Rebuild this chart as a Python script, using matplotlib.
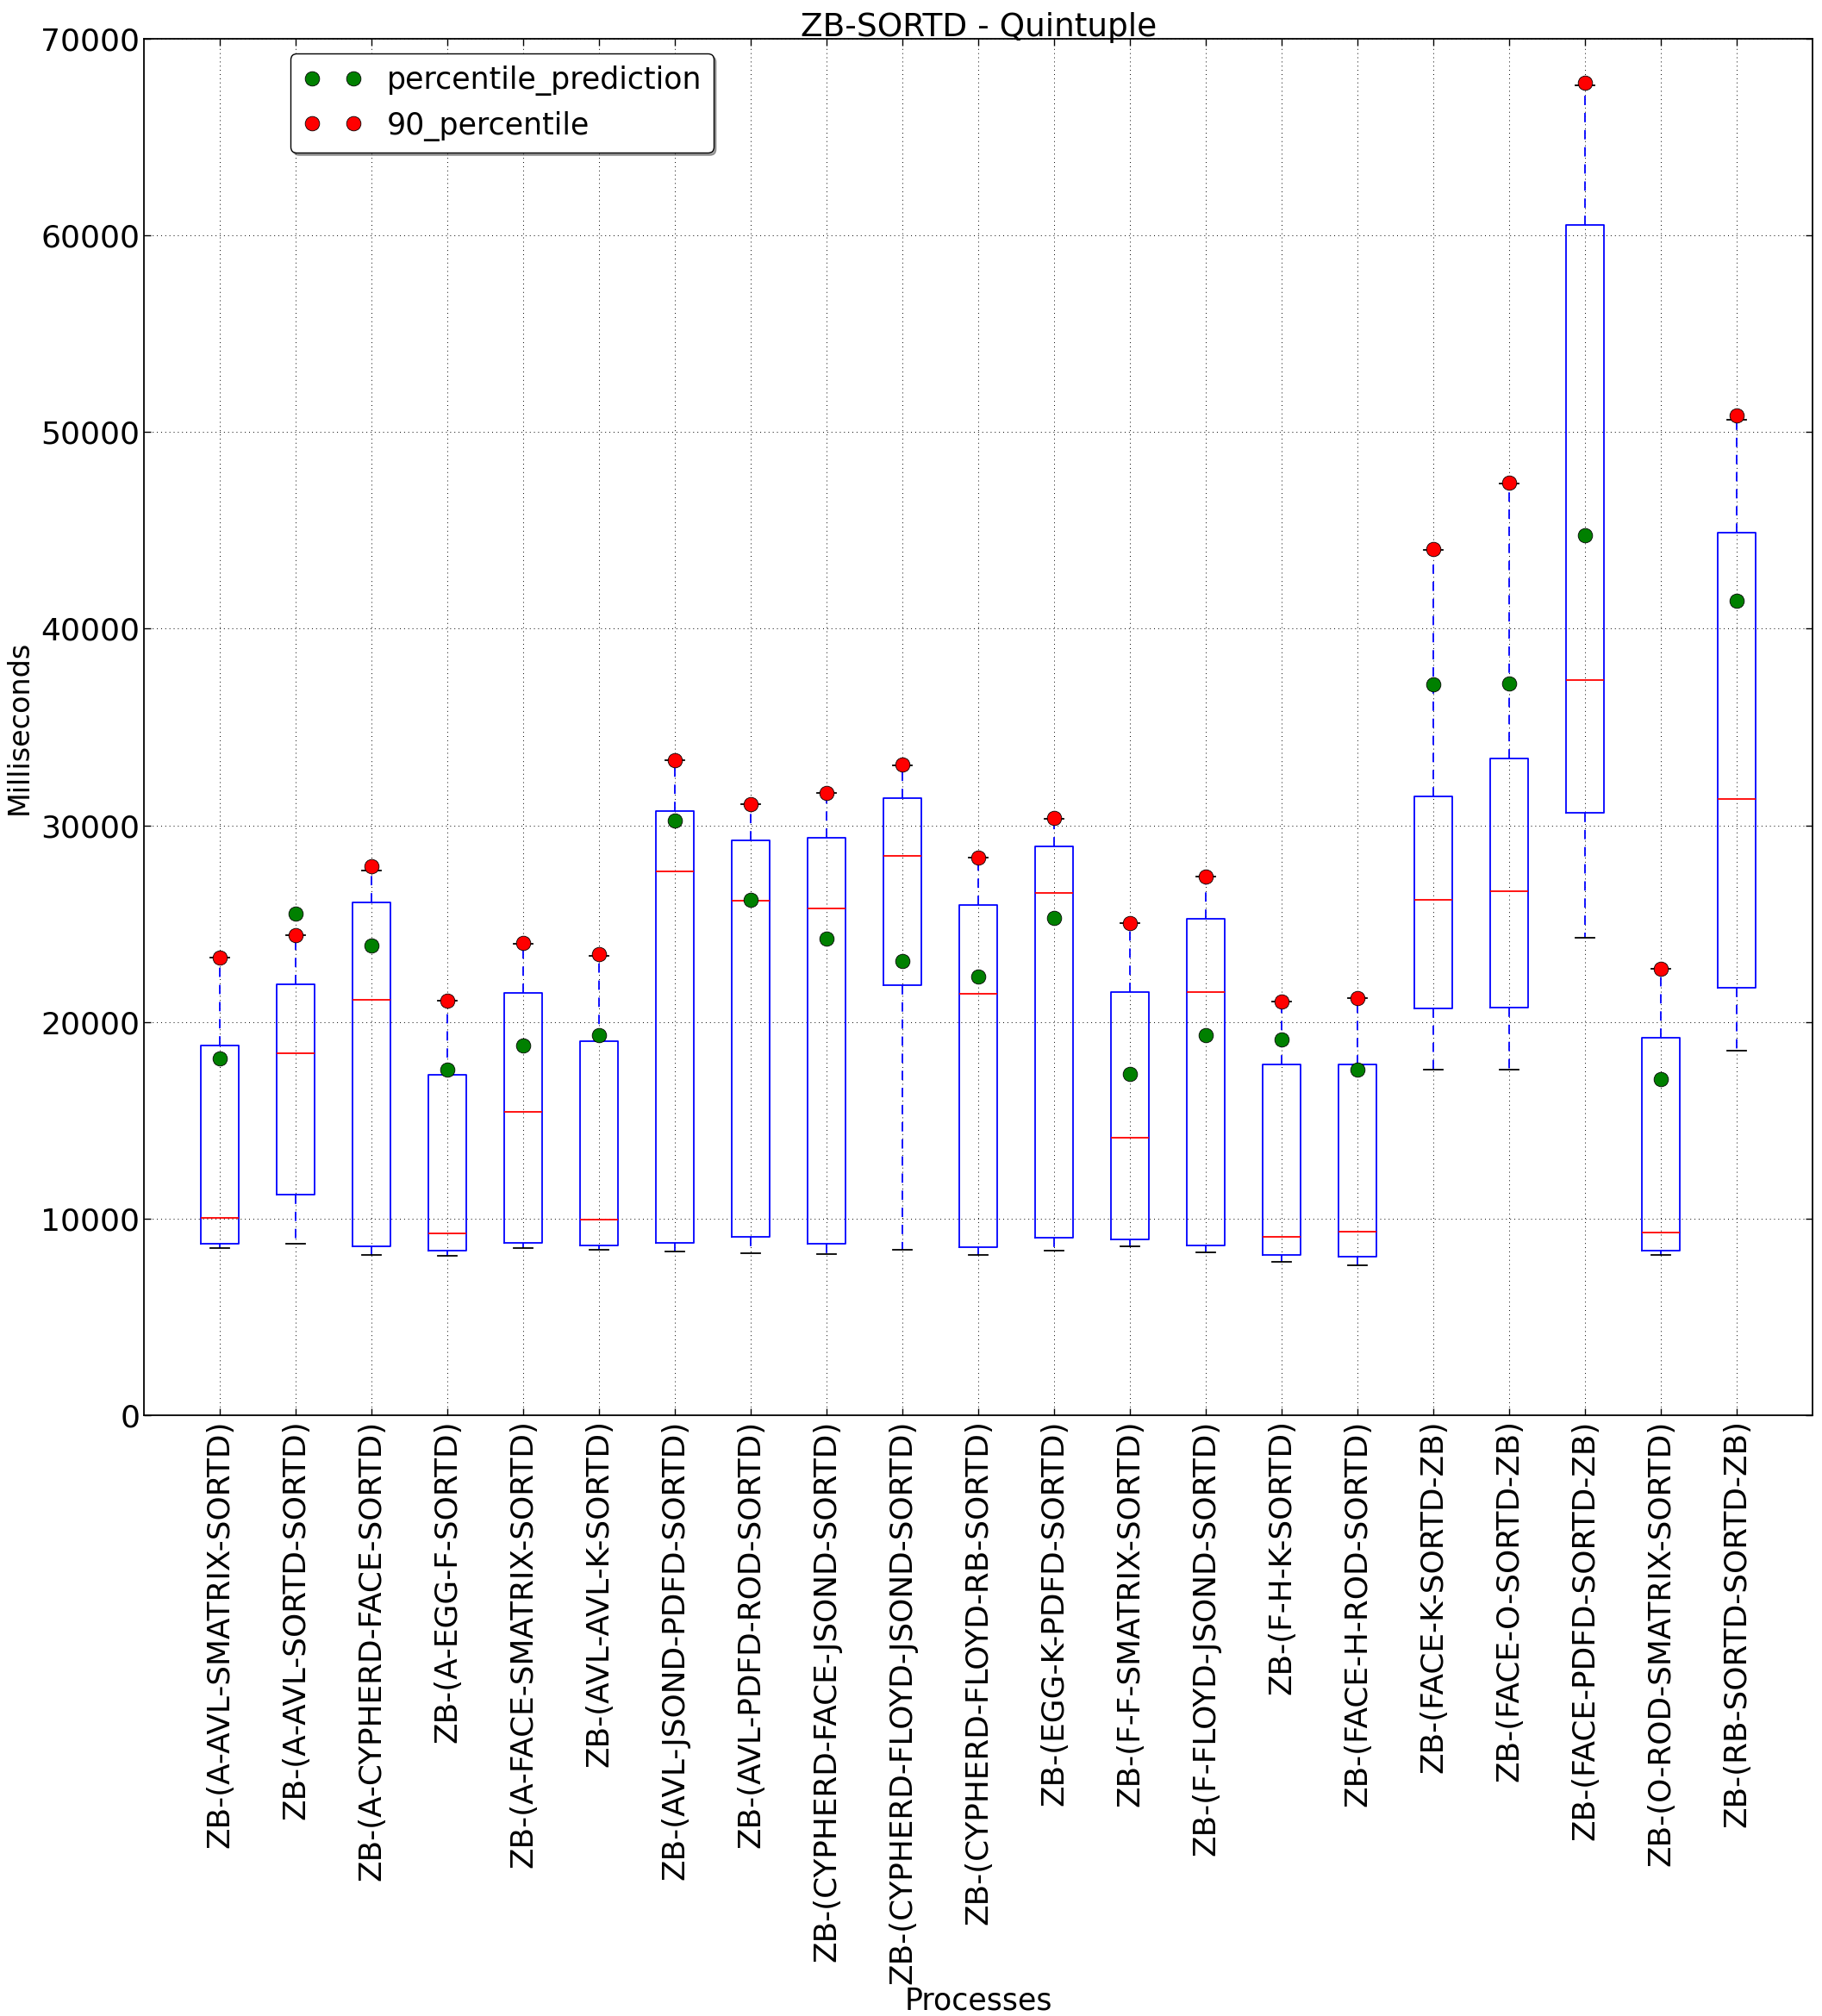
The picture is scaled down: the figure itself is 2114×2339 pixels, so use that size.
import matplotlib
matplotlib.use('Agg')
import matplotlib.pyplot as plt

labels = [
    "ZB-(A-AVL-SMATRIX-SORTD)",
    "ZB-(A-AVL-SORTD-SORTD)",
    "ZB-(A-CYPHERD-FACE-SORTD)",
    "ZB-(A-EGG-F-SORTD)",
    "ZB-(A-FACE-SMATRIX-SORTD)",
    "ZB-(AVL-AVL-K-SORTD)",
    "ZB-(AVL-JSOND-PDFD-SORTD)",
    "ZB-(AVL-PDFD-ROD-SORTD)",
    "ZB-(CYPHERD-FACE-JSOND-SORTD)",
    "ZB-(CYPHERD-FLOYD-JSOND-SORTD)",
    "ZB-(CYPHERD-FLOYD-RB-SORTD)",
    "ZB-(EGG-K-PDFD-SORTD)",
    "ZB-(F-F-SMATRIX-SORTD)",
    "ZB-(F-FLOYD-JSOND-SORTD)",
    "ZB-(F-H-K-SORTD)",
    "ZB-(FACE-H-ROD-SORTD)",
    "ZB-(FACE-K-SORTD-ZB)",
    "ZB-(FACE-O-SORTD-ZB)",
    "ZB-(FACE-PDFD-SORTD-ZB)",
    "ZB-(O-ROD-SMATRIX-SORTD)",
    "ZB-(RB-SORTD-SORTD-ZB)",
]

# box statistics (milliseconds)
whislo = [8500, 8750, 8180, 8140, 8540, 8450, 8350, 8270, 8220, 8410, 8180,
          8390, 8600, 8290, 7810, 7660, 17590, 17590, 24290, 8180, 18550]
q1 = [8750, 11230, 8600, 8390, 8790, 8660, 8790, 9100, 8750, 21870, 8560,
      9040, 8960, 8660, 8180, 8080, 20680, 20760, 30650, 8390, 21770]
med = [10040, 18400, 21120, 9250, 15430, 9960, 27680, 26160, 25760, 28450, 21450,
       26570, 14140, 21520, 9080, 9370, 26240, 26660, 37390, 9290, 31340]
q3 = [18800, 21930, 26090, 17320, 21470, 19050, 30750, 29250, 29370, 31380, 25950,
      28930, 21540, 25260, 17840, 17840, 31480, 33400, 60510, 19200, 44900]
whishi = [23270, 24440, 27720, 21080, 23980, 23350, 33300, 31060, 31650, 33050, 28370,
          30340, 25040, 27400, 21030, 21240, 44000, 47400, 67600, 22700, 50600]

percentile_prediction = [18150, 25530, 23880, 17590, 18800, 19320, 30250, 26200, 24250,
                         23120, 22330, 25300, 17360, 19320, 19110, 17590, 37170, 37210,
                         44770, 17090, 41400]
percentile_90 = [23270, 24440, 27910, 21080, 24040, 23440, 33330, 31070, 31650, 33080,
                 28370, 30360, 25050, 27410, 21030, 21240, 44050, 47420, 67750, 22710,
                 50820]

fig = plt.figure(figsize=(21.14, 23.39), dpi=100)
ax = fig.add_axes([0.079, 0.2978, 0.916, 0.6831])

positions = list(range(1, len(labels) + 1))
stats = []
for i in range(len(labels)):
    stats.append(dict(whislo=whislo[i], q1=q1[i], med=med[i], q3=q3[i],
                      whishi=whishi[i], fliers=[]))

ax.bxp(stats, positions=positions, widths=0.5, showfliers=False,
       boxprops=dict(color='blue', linewidth=1.3),
       medianprops=dict(color='red', linewidth=1.3),
       whiskerprops=dict(color='blue', linestyle='--', linewidth=1.3,
                         dashes=(6, 5)),
       capprops=dict(color='black', linewidth=1.3))

ax.plot(positions, percentile_prediction, 'o', color='green', mec='black',
        mew=0.6, markersize=12, label='percentile_prediction', zorder=4)
ax.plot(positions, percentile_90, 'o', color='red', mec='black',
        mew=0.6, markersize=12, label='90_percentile', zorder=4)

ax.set_xlim(0, 22)
ax.set_ylim(0, 70000)
ax.set_yticks(range(0, 70001, 10000))
ax.set_xticks(positions)
ax.set_xticklabels(labels, rotation=90, fontsize=25.8)
ax.tick_params(axis='y', labelsize=26)
ax.tick_params(direction='in', top=True, right=True, length=6, width=1)
ax.grid(True, color='black', linestyle=(0, (1, 4)), linewidth=0.7)
for s in ax.spines.values():
    s.set_linewidth(1.3)

ax.set_title('ZB-SORTD - Quintuple', fontsize=27, pad=2)
ax.set_ylabel('Milliseconds', fontsize=24, labelpad=6)
ax.set_xlabel('Processes', fontsize=25, labelpad=2)

leg = ax.legend(loc='upper left', bbox_to_anchor=(0.088, 0.989), numpoints=2,
                shadow=True, fancybox=True, fontsize=25, framealpha=1,
                edgecolor='black', borderaxespad=0, handletextpad=0.8)

fig.savefig('out.png', dpi=100)
